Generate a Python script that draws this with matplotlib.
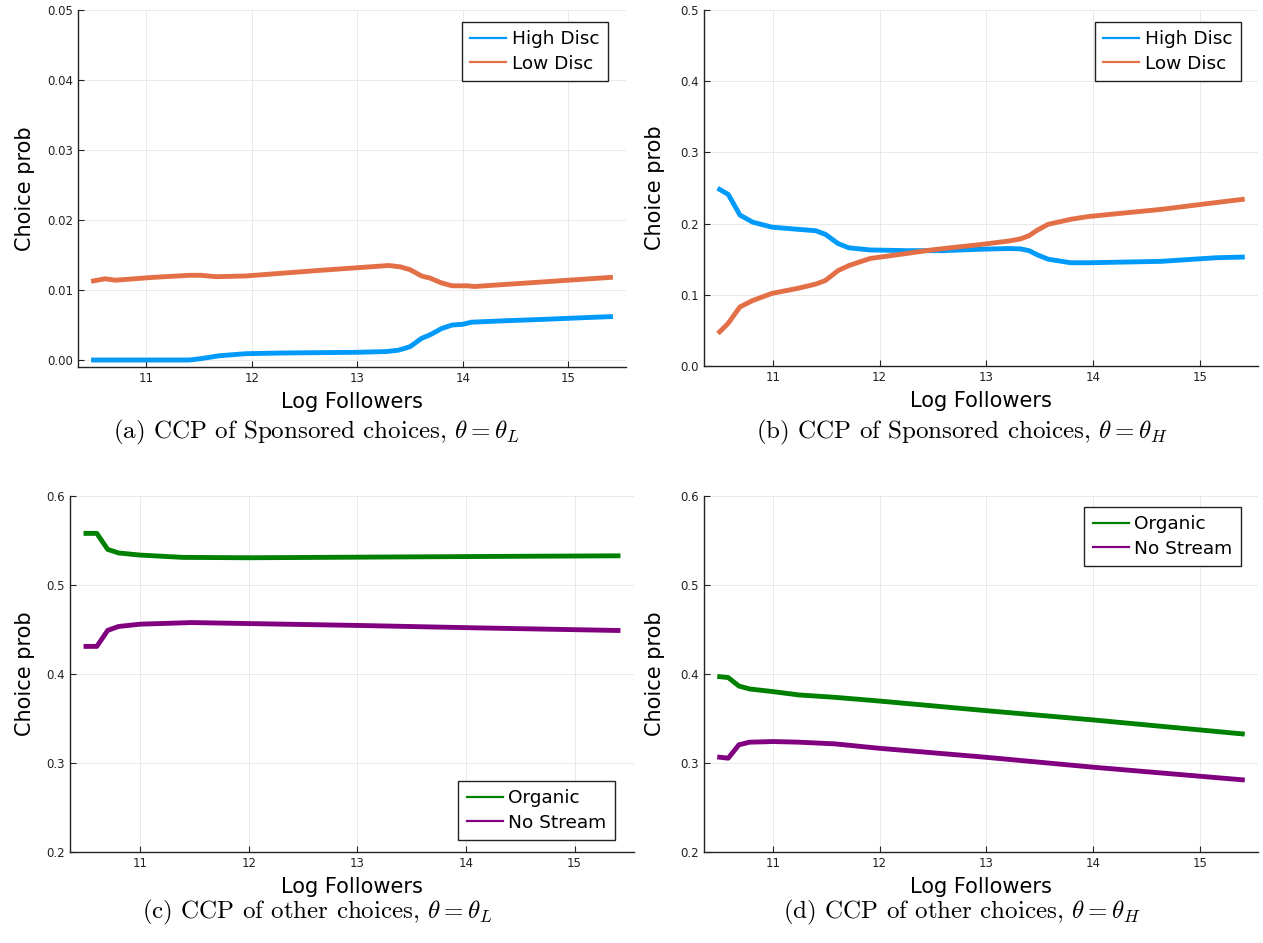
import matplotlib
matplotlib.use("Agg")
import matplotlib.pyplot as plt
from matplotlib.ticker import FormatStrFormatter
from matplotlib.lines import Line2D

# (a) sponsored choices, theta_L
xa = [10.50, 11.41, 11.52, 11.69, 11.94, 12.29, 12.99, 13.27, 13.39, 13.50, 13.61, 13.69, 13.80, 13.90, 14.00, 14.08, 14.39, 14.75, 15.40]
high_a = [0.0, 0.0, 0.0002, 0.0006, 0.0009, 0.0010, 0.0011, 0.0012, 0.0014, 0.0019, 0.0031, 0.0036, 0.0045, 0.0050, 0.0051, 0.0054, 0.0056, 0.0058, 0.0062]
xa2 = [10.50, 10.61, 10.71, 11.06, 11.41, 11.52, 11.66, 11.94, 12.64, 13.30, 13.41, 13.50, 13.61, 13.69, 13.80, 13.90, 14.04, 14.11, 15.40]
low_a = [0.0113, 0.0116, 0.0114, 0.0118, 0.0121, 0.0121, 0.0119, 0.0120, 0.0128, 0.0135, 0.0133, 0.0129, 0.0120, 0.0117, 0.0110, 0.0106, 0.0106, 0.0105, 0.0118]

# (b) sponsored choices, theta_H
xb = [10.50, 10.58, 10.69, 10.81, 10.99, 11.23, 11.40, 11.49, 11.61, 11.71, 11.91, 12.25, 12.46, 12.60, 12.94, 13.21, 13.32, 13.40, 13.48, 13.58, 13.79, 13.96, 14.64, 15.15, 15.40]
high_b = [0.248, 0.241, 0.212, 0.202, 0.195, 0.192, 0.190, 0.185, 0.172, 0.166, 0.163, 0.162, 0.162, 0.162, 0.164, 0.165, 0.1645, 0.162, 0.156, 0.150, 0.145, 0.145, 0.147, 0.152, 0.153]
low_b = [0.048, 0.060, 0.083, 0.092, 0.102, 0.109, 0.115, 0.120, 0.134, 0.141, 0.151, 0.158, 0.1625, 0.165, 0.1705, 0.1755, 0.1785, 0.183, 0.191, 0.199, 0.206, 0.210, 0.220, 0.2295, 0.234]

# (c) other choices, theta_L
xc = [10.50, 10.60, 10.70, 10.80, 11.00, 11.40, 11.47, 11.99, 13.03, 14.07, 15.40]
organic_c = [0.558, 0.558, 0.540, 0.536, 0.5336, 0.531, 0.531, 0.5306, 0.5313, 0.532, 0.5328]
nostream_c = [0.431, 0.431, 0.449, 0.4534, 0.456, 0.4575, 0.4578, 0.4567, 0.4545, 0.4519, 0.4489]

# (d) other choices, theta_H
xd = [10.50, 10.58, 10.68, 10.78, 11.00, 11.24, 11.58, 11.99, 12.99, 14.00, 15.40]
organic_d = [0.397, 0.396, 0.3865, 0.3832, 0.3802, 0.3765, 0.3738, 0.3697, 0.3589, 0.3484, 0.3327]
nostream_d = [0.3065, 0.3054, 0.3204, 0.3234, 0.3241, 0.3234, 0.3215, 0.3166, 0.3065, 0.2953, 0.2811]

captions = [r"(a) CCP of Sponsored choices, $\theta = \theta_L$",
            r"(b) CCP of Sponsored choices, $\theta = \theta_H$",
            r"(c) CCP of other choices, $\theta = \theta_L$",
            r"(d) CCP of other choices, $\theta = \theta_H$"]

BLUE = "#009AFA"
ORANGE = "#E36F47"
GREEN = "#008000"
PURPLE = "#800080"

plt.rcParams['mathtext.fontset'] = 'cm'

W, H = 1263, 943
fig = plt.figure(figsize=(W / 100, H / 100), dpi=100)


def add_ax(l, r, t, b):
    return fig.add_axes([l / W, 1 - b / H, (r - l) / W, (b - t) / H])


def style(ax, ylim, fmt, ylab_x):
    ax.set_xlim(10.353, 15.547)
    ax.set_ylim(*ylim)
    ax.set_xticks([11, 12, 13, 14, 15])
    ax.yaxis.set_major_formatter(FormatStrFormatter(fmt))
    ax.grid(True, color="#e6e6e6", linewidth=0.6)
    ax.set_axisbelow(True)
    for s in ["top", "right"]:
        ax.spines[s].set_visible(False)
    for s in ["left", "bottom"]:
        ax.spines[s].set_color("#222222")
        ax.spines[s].set_linewidth(1.0)
    ax.tick_params(direction="in", length=4, width=0.8, labelsize=8.5, colors="#222222")
    ax.set_xlabel("Log Followers", fontsize=15)
    ax.set_ylabel("Choice prob", fontsize=15)
    ax.xaxis.label.set_va("center")
    ax.yaxis.label.set_va("center")
    ax.xaxis.set_label_coords(0.5, -0.098)
    ax.yaxis.set_label_coords(ylab_x, 0.5)


def legend(ax, labels, colors, loc, anchor):
    handles = [Line2D([0], [0], color=c, lw=1.6) for c in colors]
    lg = ax.legend(handles, labels, loc=loc, bbox_to_anchor=anchor, fontsize=13.3,
                   frameon=True, fancybox=False, framealpha=1, edgecolor="#222222",
                   handlelength=1.95, handletextpad=0.32, borderpad=0.45,
                   labelspacing=0.35, borderaxespad=0)
    lg.get_frame().set_linewidth(1.0)


lw = 3.5

ax = add_ax(78, 626, 10, 367)
ax.plot(xa, high_a, color=BLUE, lw=lw)
ax.plot(xa2, low_a, color=ORANGE, lw=lw)
style(ax, (-0.001, 0.05), "%.2f", -0.097)
ax.set_yticks([0, 0.01, 0.02, 0.03, 0.04, 0.05])
legend(ax, ["High Disc", "Low Disc"], [BLUE, ORANGE], "upper right", (1 - 18 / 548, 1 - 12 / 357))

ax = add_ax(704, 1258, 10, 366)
ax.plot(xb, high_b, color=BLUE, lw=lw)
ax.plot(xb, low_b, color=ORANGE, lw=lw)
style(ax, (0, 0.5), "%.1f", -0.088)
ax.set_yticks([0, 0.1, 0.2, 0.3, 0.4, 0.5])
legend(ax, ["High Disc", "Low Disc"], [BLUE, ORANGE], "upper right", (1 - 17 / 554, 1 - 12 / 356))

ax = add_ax(70, 634, 496, 852)
ax.plot(xc, organic_c, color=GREEN, lw=lw)
ax.plot(xc, nostream_c, color=PURPLE, lw=lw)
style(ax, (0.2, 0.6), "%.1f", -0.08)
ax.set_yticks([0.2, 0.3, 0.4, 0.5, 0.6])
legend(ax, ["Organic", "No Stream"], [GREEN, PURPLE], "lower right", (1 - 19 / 564, 12 / 356))

ax = add_ax(704, 1258, 496, 852)
ax.plot(xd, organic_d, color=GREEN, lw=lw)
ax.plot(xd, nostream_d, color=PURPLE, lw=lw)
style(ax, (0.2, 0.6), "%.1f", -0.088)
ax.set_yticks([0.2, 0.3, 0.4, 0.5, 0.6])
legend(ax, ["Organic", "No Stream"], [GREEN, PURPLE], "upper right", (1 - 17 / 554, 1 - 11 / 356))

cap_pos = [(316, 432), (962, 432), (317, 912), (962, 912)]
for (cx, cy), txt in zip(cap_pos, captions):
    fig.text(cx / W, 1 - cy / H, txt, ha="center", va="center", fontsize=18,
             family="cmr10")

fig.savefig("out.png", dpi=100)
